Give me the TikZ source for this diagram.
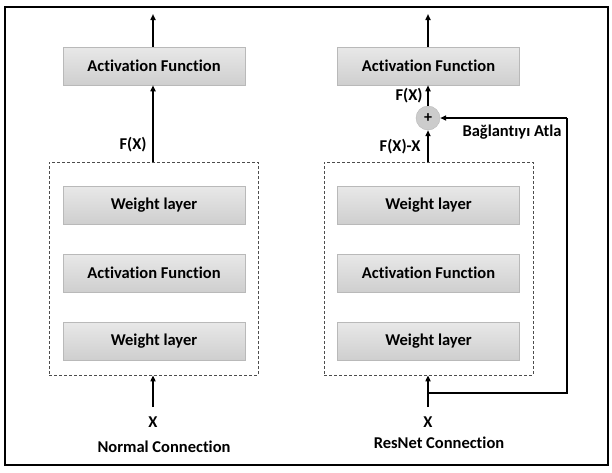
\documentclass[tikz,border=0pt]{standalone}
\usepackage{fontspec}
\setmainfont{Carlito}[Ligatures=NoCommon]
\usetikzlibrary{arrows.meta,shadings}
\begin{document}
\begin{tikzpicture}[x=1pt,y=-1pt,
  lbl/.style={font=\fontsize{16.5}{18}\selectfont\bfseries, inner sep=0pt},
  layer/.style={draw=gray!55, line width=0.5pt, top color=gray!18, bottom color=gray!38,
    minimum width=182pt, minimum height=38pt, inner sep=0pt, font=\fontsize{16.5}{18}\selectfont\bfseries},
  grp/.style={draw=black!70, densely dashed, line width=0.6pt, minimum width=209pt, minimum height=213pt, inner sep=0pt},
  conn/.style={line width=1.6pt, -{Triangle[length=6pt,width=5pt]}},
  plain/.style={line width=1.6pt}
]
\useasboundingbox (0,0) rectangle (612,472);
\draw[line width=1.6pt] (5,7) rectangle (608,465);

% ---------- Left: Normal connection ----------
\node[layer] (la) at (154,66) {Activation Function};
\node[grp] (lg) at (153.5,268.5) {};
\node[layer] (lw1) at (154,205) {Weight layer};
\node[layer] (lact) at (154,273) {Activation Function};
\node[layer] (lw2) at (154,341) {Weight layer};
\coordinate (ltop) at (153,14);
\coordinate (lin) at (153,407);
\draw[conn] (la.north -| ltop) -- (ltop);
\draw[conn] (lg.north -| ltop) -- (la.south -| ltop);
\draw[conn] (lin) -- (lg.south -| lin);
\node[lbl] (lfx) at (133,145) {F(X)};
\node[lbl] (lx) at (153,422) {X};
\node[lbl] (lcap) at (164,447) {Normal Connection};

% ---------- Right: ResNet connection ----------
\node[layer] (ra) at (428.5,66) {Activation Function};
\node[grp] (rg) at (428.5,268.5) {};
\node[layer] (rw1) at (428.5,205) {Weight layer};
\node[layer] (ract) at (428.5,273) {Activation Function};
\node[layer] (rw2) at (428.5,341) {Weight layer};
\node[circle, fill=gray!40, draw=gray!55, line width=0.4pt, minimum size=24pt, inner sep=0pt,
  font=\fontsize{16}{18}\selectfont\bfseries] (plus) at (428,118) {+};
\coordinate (rtop) at (428,14);
\coordinate (rin) at (428,407);
\coordinate (rsplit) at (428,393);
\coordinate (rcorner1) at (567,393);
\coordinate (rcorner2) at (567,118);
\draw[conn] (ra.north -| rtop) -- (rtop);
\draw[conn] (plus.north) -- (ra.south -| plus);
\draw[conn] (rg.north -| plus) -- (plus.south);
\draw[conn] (rin) -- (rg.south -| rin);
\draw[plain] (rsplit) -- (rcorner1) -- (rcorner2);
\draw[conn] (rcorner2) -- (plus.east);
\node[lbl] (rfx) at (409,96) {F(X)};
\node[lbl] (rfxx) at (400,147) {F(X)-X};
\node[lbl] (skip) at (512,132) {Bağlantıyı Atla};
\node[lbl] (rx) at (428,422) {X};
\node[lbl] (rcap) at (439,443) {ResNet Connection};
\end{tikzpicture}
\end{document}
